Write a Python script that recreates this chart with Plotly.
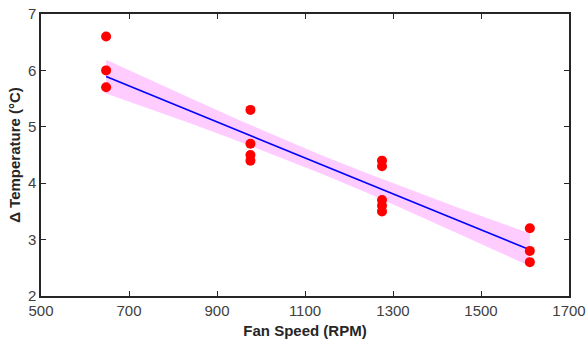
import plotly.graph_objects as go

fan_speed = [648, 648, 648, 976, 976, 976, 976, 1275, 1275, 1275, 1275, 1275, 1611, 1611, 1611]
delta_temp = [6.6, 6.0, 5.7, 5.3, 4.7, 4.5, 4.4, 4.4, 4.3, 3.7, 3.6, 3.5, 3.2, 2.8, 2.6]

# Fitted line endpoints
fit_x = [648, 1611]
fit_y = [5.89, 2.82]

# Confidence band (upper/lower)
band_x = [648, 750, 850, 950, 1050, 1136, 1250, 1350, 1450, 1550, 1611]
band_upper = [6.19, 5.82, 5.47, 5.12, 4.78, 4.50, 4.15, 3.85, 3.56, 3.28, 3.11]
band_lower = [5.59, 5.31, 5.03, 4.74, 4.44, 4.17, 3.80, 3.45, 3.10, 2.75, 2.53]

x_ticks = [500, 700, 900, 1100, 1300, 1500, 1700]
y_ticks = [2, 3, 4, 5, 6, 7]

FONT = "Liberation Sans, Arial, Helvetica, sans-serif"
AXIS_COLOR = "#262626"

fig = go.Figure()
fig.add_trace(go.Scatter(
    x=band_x + band_x[::-1], y=band_upper + band_lower[::-1],
    fill="toself", fillcolor="rgb(255,204,255)", line=dict(width=0),
    mode="lines", hoverinfo="skip", showlegend=False))
fig.add_trace(go.Scatter(
    x=fit_x, y=fit_y, mode="lines",
    line=dict(color="#0000ff", width=1.6), showlegend=False))
fig.add_trace(go.Scatter(
    x=fan_speed, y=delta_temp, mode="markers",
    marker=dict(color="#ff0000", size=10, line=dict(width=0)), showlegend=False))

axis_common = dict(
    showline=True, linecolor=AXIS_COLOR, linewidth=1.5, mirror="ticks",
    ticks="inside", ticklen=5, tickwidth=1.2, tickcolor=AXIS_COLOR,
    showgrid=False, zeroline=False, automargin=False,
    tickfont=dict(family=FONT, size=15, color="#404040"),
)

fig.update_xaxes(
    range=[500, 1700], tickvals=x_ticks, ticktext=[str(v) for v in x_ticks],
    title=dict(text="<b>Fan Speed (RPM)</b>", font=dict(family=FONT, size=15, color=AXIS_COLOR), standoff=8),
    **axis_common)
fig.update_yaxes(
    range=[2, 7], tickvals=y_ticks, ticktext=[str(v) for v in y_ticks],
    title=dict(text="<b>Δ Temperature (°C)</b>", font=dict(family=FONT, size=15, color=AXIS_COLOR), standoff=4),
    **axis_common)

fig.update_layout(
    width=587, height=339,
    margin=dict(l=41, r=18, t=14, b=43),
    paper_bgcolor="white", plot_bgcolor="white",
)

# remove the default page-body margin so the figure fills the window exactly
fig.write_html("out.html", config={"displayModeBar": False},
               post_script="document.body.style.margin='0';")
